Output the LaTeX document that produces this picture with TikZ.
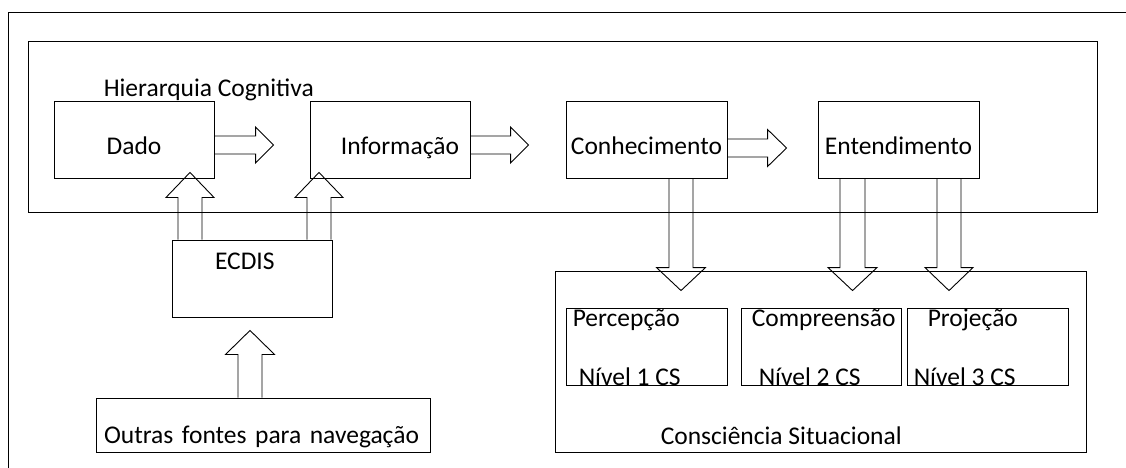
\documentclass[tikz,border=0pt]{standalone}
\usepackage{fontspec}
\setmainfont{Carlito}
\usepackage{tikz}
\usetikzlibrary{calc}
\tikzset{
    box/.style={
        draw,
        rectangle,
        inner sep=0pt,
        line width=0.9pt,
        minimum width=160pt,
        minimum height=77pt
    },
    lowtext/.style={
        text height=29pt,
        text depth=0pt
    },
    txt/.style={
        inner sep=0pt,
        anchor=base west
    },
    fat/.style={
        line width=0.9pt
    }
}
% hollow block arrow: start, tip, half shaft, half head, head length
\newcommand{\fatarrow}[5]{%
    \coordinate (fa-s) at (#1);
    \coordinate (fa-e) at (#2);
    \coordinate (fa-h) at ($(fa-e)!#5!(fa-s)$);
    \draw[fat] ($(fa-s)!#3!90:(fa-e)$) -- ($(fa-h)!#3!90:(fa-e)$)
        -- ($(fa-h)!#4!90:(fa-e)$) -- (fa-e)
        -- ($(fa-h)!#4!-90:(fa-e)$) -- ($(fa-h)!#3!-90:(fa-e)$)
        -- ($(fa-s)!#3!-90:(fa-e)$);
}

\begin{document}
\begin{tikzpicture}[x=1pt, y=-1pt,
    every node/.style={font=\fontsize{25.5}{30}\selectfont}]
    \useasboundingbox (0,0) rectangle (1126,467);
    \clip (0,0) rectangle (1126,467);
    % Frame
    \draw[line width=0.9pt] (8,480) -- (8,12) -- (1140,12);

    % Hierarquia Cognitiva
    \node[box, minimum width=1069pt, minimum height=171pt] (hier) at (562.5,126.5) {};
    \node[txt] (hier-t) at ($(hier.north west)+(76,56)$) {Hierarquia Cognitiva};
    \node[box, lowtext] (dado) at (134,139.5) {Dado};
    \node[box, lowtext, text width=138pt, align=right] (info) at (390,139.5) {Informação};
    \node[box, lowtext, minimum width=161pt] (conh) at (646.5,139.5) {Conhecimento};
    \node[box, lowtext, minimum width=161pt] (ent) at (898.5,139.5) {Entendimento};

    % Sources
    \node[box, text height=0pt, text depth=19pt, text width=74pt, align=left] (ecdis) at (252,278.5) {ECDIS};
    \node[box, minimum width=334pt, minimum height=54pt, text height=36pt, text depth=0pt,
        text width=318pt, align=left] (outras) at (263,425) {Outras fontes para navegação};

    % Consciencia Situacional
    \node[box, minimum width=531pt, minimum height=181pt] (cs) at (820.5,361.5) {};
    \node[txt] (cs-t) at ($(cs.south west)+(106,-8)$) {Consciência Situacional};
    \node[box, minimum width=161pt] (perc) at (646.5,346.5) {};
    \node[box] (comp) at (821,346.5) {};
    \node[box, minimum width=161pt] (proj) at (987.5,346.5) {};
    \node[txt] (perc-t) at ($(perc.north west)+(7,19)$) {Percepção};
    \node[txt] (perc-n) at ($(perc.south west)+(13,0)$) {Nível 1 CS};
    \node[txt] (comp-t) at ($(comp.north west)+(11,19)$) {Compreensão};
    \node[txt] (comp-n) at ($(comp.south west)+(18,0)$) {Nível 2 CS};
    \node[txt] (proj-t) at ($(proj.north west)+(21,19)$) {Projeção};
    \node[txt] (proj-n) at ($(proj.south west)+(7,0)$) {Nível 3 CS};

    % Arrows
    \fatarrow{$(dado.east)+(0,5.5)$}{$(info.west)+(-36,5.5)$}{9pt}{18pt}{18pt}
    \fatarrow{$(info.east)+(0,5.5)$}{$(conh.west)+(-37,5.5)$}{9pt}{18pt}{18pt}
    \fatarrow{$(conh.east)+(0,8.5)$}{$(ent.west)+(-31,8.5)$}{9pt}{18.5pt}{19pt}
    \fatarrow{$(conh.south)+(34.5,0)$}{$(perc.north)+(34.5,-17)$}{12pt}{24.5pt}{23pt}
    \fatarrow{$(ent.south)+(-46,0)$}{$(comp.north)+(31.5,-17)$}{12.5pt}{24.5pt}{23pt}
    \fatarrow{$(ent.south)+(50.5,0)$}{$(proj.north)+(-38.5,-17)$}{12pt}{24pt}{23pt}
    \fatarrow{$(ecdis.north)+(-62,0)$}{$(dado.south)+(56,-6)$}{12pt}{24pt}{25pt}
    \fatarrow{$(ecdis.north)+(67,0)$}{$(info.south)+(-71,-6)$}{12pt}{24pt}{25pt}
    \fatarrow{$(outras.north)+(-13,0)$}{$(ecdis.south)+(-2,13)$}{12pt}{24.5pt}{24pt}
\end{tikzpicture}
\end{document}
